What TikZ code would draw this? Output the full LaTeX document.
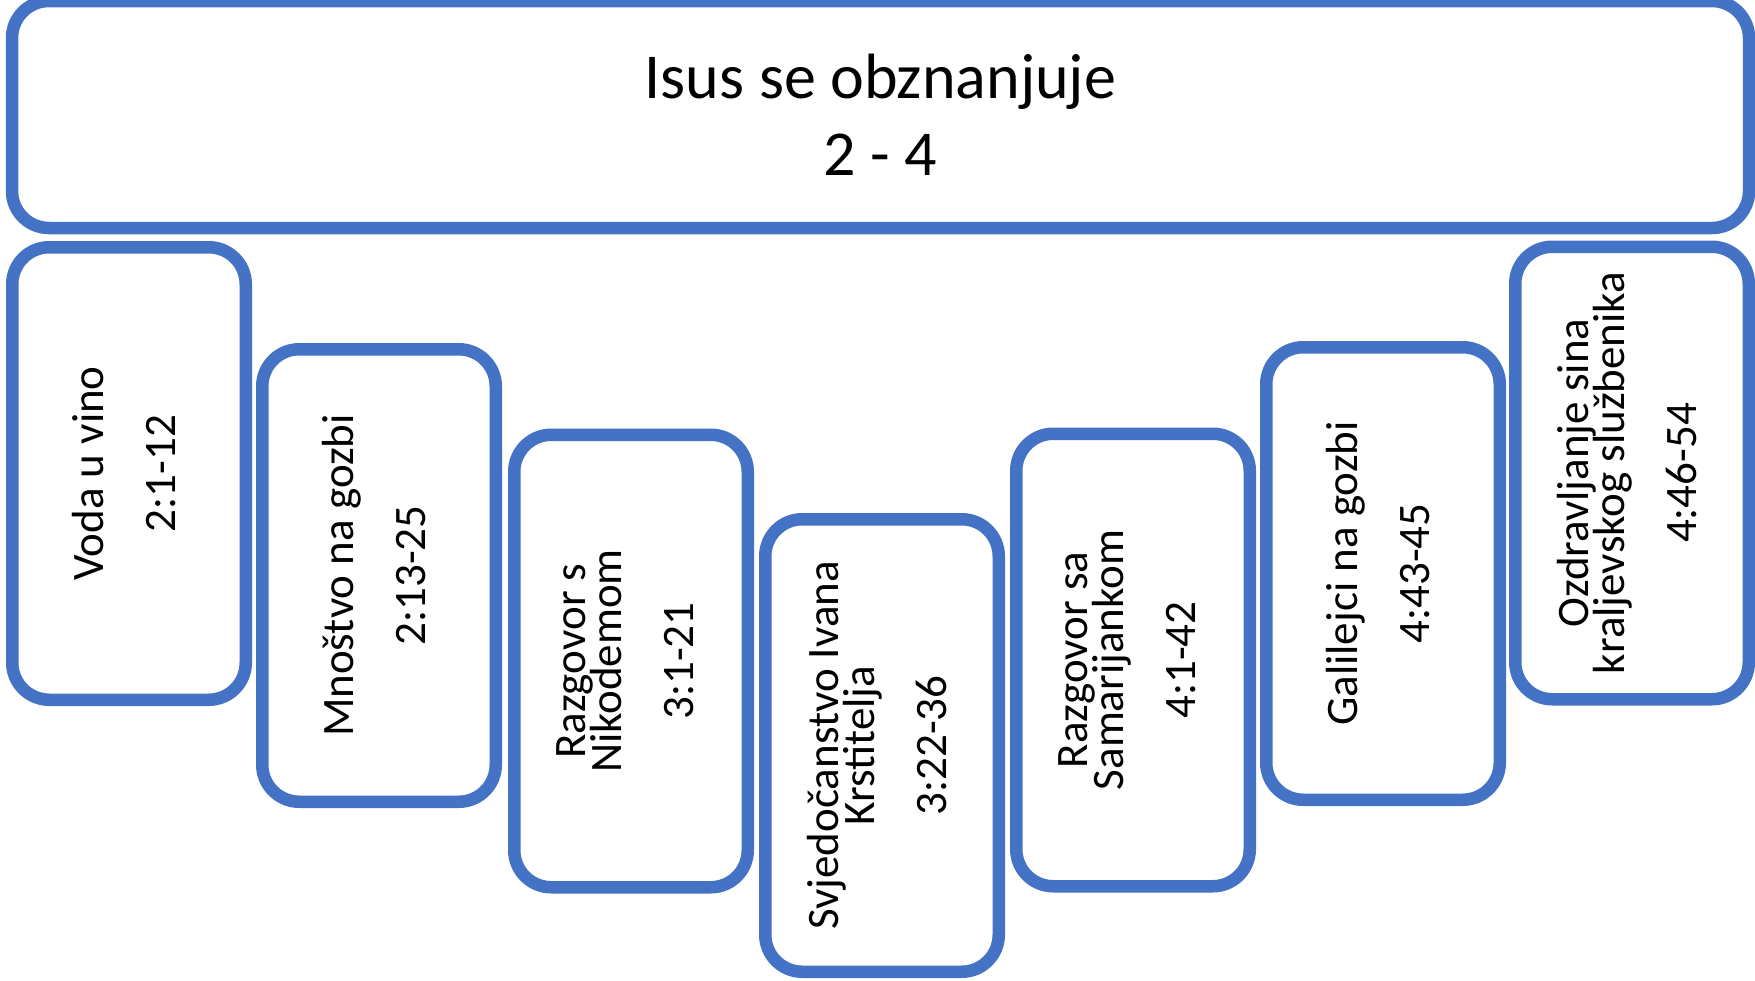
\documentclass[tikz,border=0pt]{standalone}
\usepackage{fontspec}
\setmainfont{Carlito}
\definecolor{accent}{HTML}{4472C4}
\tikzset{
  frame/.style={draw=accent, line width=12.5pt, rounded corners=37pt, fill=white, inner sep=0pt, align=center, text=black},
  stepbox/.style={frame, rotate=90, minimum width=452.5pt, minimum height=233.5pt, text depth=11pt,
    font={\fontsize{45}{36}\selectfont\lineskiplimit=-100pt}},
  titlebox/.style={frame, minimum width=1737pt, minimum height=227pt,
    font={\fontsize{64}{77}\selectfont\lineskiplimit=-100pt}}
}
\begin{document}
\begin{tikzpicture}[x=1pt,y=1pt]
\fill[white] (0,0) rectangle (1755,-980);
\useasboundingbox (0,0) rectangle (1755,-980);
\node[titlebox] (top) at (880.5,-114.5) {Isus se obznanjuje\\2 - 4};
\node[stepbox] (b1) at (129,-473.5) {Voda u vino\\[36pt]2:1-12};
\node[stepbox] (b2) at (379,-575.5) {Mnoštvo na gozbi\\[36pt]2:13-25};
\node[stepbox] (b3) at (631,-661) {Razgovor s\\Nikodemom\\[36pt]3:1-21};
\node[stepbox] (b4) at (882,-745.5) {Svjedočanstvo Ivana\\Krstitelja\\[36pt]3:22-36};
\node[stepbox] (b5) at (1133,-660) {Razgovor sa\\Samarijankom\\[36pt]4:1-42};
\node[stepbox] (b6) at (1383,-573.5) {Galilejci na gozbi\\[36pt]4:43-45};
\node[stepbox] (b7) at (1632,-473) {Ozdravljanje sina\\kraljevskog službenika\\[36pt]4:46-54};
\end{tikzpicture}
\end{document}
